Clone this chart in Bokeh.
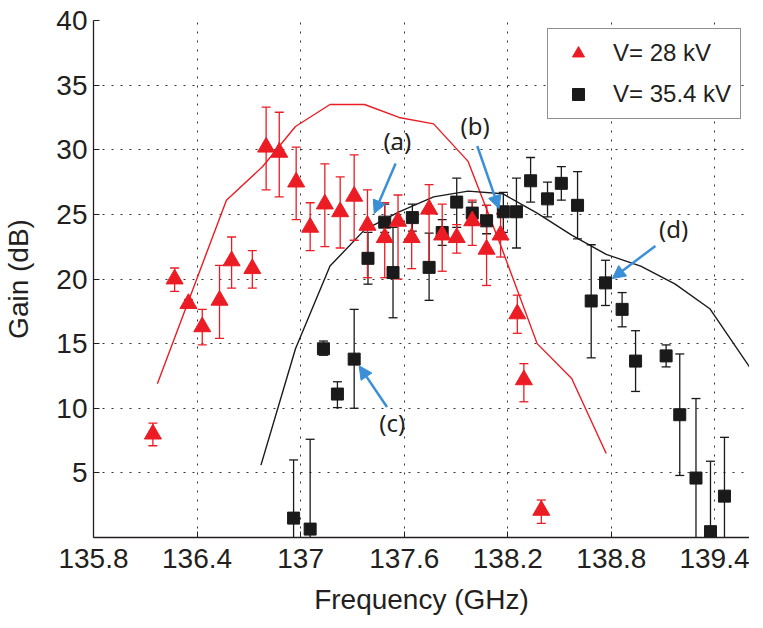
from bokeh.plotting import figure
from bokeh.models import (Range1d, FixedTicker, Legend, LegendItem, Arrow,
                          NormalHead, ColumnDataSource)
from bokeh.core.properties import value
from bokeh.embed import file_html
from bokeh.resources import INLINE

# ---------------- data ----------------
x_ticks = [135.8, 136.4, 137.0, 137.6, 138.2, 138.8, 139.4]
x_tick_labels = ["135.8", "136.4", "137", "137.6", "138.2", "138.8", "139.4"]
y_ticks = [5, 10, 15, 20, 25, 30, 35, 40]
y_tick_labels = ["5", "10", "15", "20", "25", "30", "35", "40"]

# measured, V = 28 kV
freq_28 = [136.144, 136.27, 136.35, 136.43, 136.53, 136.60, 136.72, 136.80, 136.876,
           136.974, 137.055, 137.14, 137.229, 137.31, 137.387, 137.487, 137.564,
           137.643, 137.744, 137.82, 137.904, 137.994, 138.077, 138.158, 138.255,
           138.293, 138.394]
gain_28 = [8.0, 20.0, 18.1, 16.3, 18.35, 21.4, 20.8, 30.2, 29.8,
           27.5, 24.0, 25.8, 25.2, 26.4, 24.15, 23.2, 24.46,
           23.2, 25.4, 23.4, 23.2, 24.5, 22.3, 23.4, 17.3,
           12.2, 2.1]
low_28 = [7.1, 19.05, 17.8, 14.9, 15.4, 19.3, 19.3, 26.9, 26.35,
          24.6, 22.2, 22.5, 22.4, 23.0, 20.1, 20.1, 20.0,
          20.8, 20.6, 20.6, 22.0, 22.6, 19.5, 21.7, 15.8,
          10.5, 1.1]
high_28 = [8.85, 20.85, 18.4, 17.65, 21.05, 23.25, 22.2, 33.3, 32.9,
           30.2, 25.9, 28.9, 27.9, 29.6, 26.9, 25.9, 26.5,
           24.9, 27.3, 25.8, 24.2, 26.1, 25.7, 25.05, 18.75,
           13.45, 2.9]

# measured, V = 35.4 kV
freq_35 = [136.959, 137.055, 137.132, 137.213, 137.31, 137.39, 137.487, 137.535,
           137.647, 137.744, 137.82, 137.904, 137.994, 138.077, 138.174, 138.25,
           138.332, 138.43, 138.51, 138.604, 138.683, 138.766, 138.862, 138.94,
           139.117, 139.196, 139.29, 139.374, 139.455]
gain_35 = [1.5, 0.65, 14.6, 11.1, 13.8, 21.6, 24.4, 20.5,
           24.75, 20.9, 23.6, 25.95, 25.1, 24.5, 25.2, 25.2,
           27.6, 26.2, 27.4, 25.7, 18.3, 19.7, 17.65, 13.65,
           14.05, 9.5, 4.6, 0.45, 3.2]
low_35 = [-3.0, -6.3, 14.1, 10.05, 10.0, 19.6, 23.6, 17.0,
          23.7, 18.35, 22.6, 24.0, 24.15, 23.5, 23.6, 22.4,
          25.95, 24.8, 26.1, 23.1, 13.9, 17.95, 16.3, 11.3,
          13.2, 4.8, -1.5, -5.0, -1.3]
high_35 = [6.0, 7.6, 15.2, 12.05, 17.65, 23.6, 25.8, 24.0,
           25.8, 23.55, 24.6, 27.8, 25.95, 25.7, 26.7, 27.8,
           29.4, 27.5, 28.7, 28.3, 22.65, 21.45, 18.95, 16.0,
           14.9, 14.2, 10.75, 5.9, 7.75]

# simulation curves
sim28_x = [136.17, 136.57, 136.78, 136.97, 137.17, 137.37, 137.57, 137.77,
           137.97, 138.17, 138.37, 138.57, 138.77]
sim28_y = [11.9, 26.1, 28.7, 31.8, 33.5, 33.5, 32.5, 32.0,
           29.1, 22.2, 15.0, 12.3, 6.5]
sim35_x = [136.77, 136.97, 137.17, 137.37, 137.57, 137.77, 137.97, 138.17,
           138.37, 138.57, 138.77, 138.97, 139.17, 139.37, 139.6]
sim35_y = [5.6, 14.6, 21.0, 23.8, 25.2, 26.35, 26.8, 26.6,
           25.1, 23.4, 21.9, 21.0, 19.6, 17.7, 13.2]

# annotations
ann_labels = ["(a)", "(b)", "(c)", "(d)"]
ann_x = [137.56, 138.01, 137.53, 139.16]
ann_y = [30.7, 31.9, 8.9, 23.9]
arrow_x0 = [137.55, 138.023, 137.50, 139.055]
arrow_y0 = [28.93, 30.29, 10.10, 22.56]
arrow_x1 = [137.426, 138.149, 137.339, 138.805]
arrow_y1 = [25.06, 25.45, 13.28, 20.03]

RED = "#ec1c24"
BLACK = "#1a1a1a"
BLUE = "#3b8fd6"
TXT = "#231f20"
FONT = "Liberation Sans"

# ---------------- figure ----------------
p = figure(frame_width=656, frame_height=517,
           x_range=Range1d(135.8, 139.6), y_range=Range1d(0, 40),
           output_backend="svg", toolbar_location=None,
           min_border_left=92, min_border_right=0,
           min_border_top=20, min_border_bottom=78)
p.outline_line_color = None
p.background_fill_color = "white"
p.border_fill_color = "white"

for ax in (p.xaxis[0], p.yaxis[0]):
    ax.major_label_text_font = FONT
    ax.major_label_text_font_size = "28px"
    ax.major_label_text_color = TXT
    ax.axis_label_text_font = FONT
    ax.axis_label_text_font_size = "28px"
    ax.axis_label_text_font_style = "normal"
    ax.axis_label_text_color = TXT
    ax.axis_line_color = TXT
    ax.axis_line_width = 1.3
    ax.major_tick_in = 6
    ax.major_tick_out = 0
    ax.major_tick_line_color = TXT
    ax.minor_tick_line_color = None

p.xaxis.major_label_standoff = 11
p.yaxis.major_label_standoff = 6
p.xaxis.ticker = FixedTicker(ticks=x_ticks)
p.xaxis.major_label_overrides = dict(zip(x_ticks, x_tick_labels))
p.yaxis.ticker = FixedTicker(ticks=y_ticks)
p.yaxis.major_label_overrides = dict(zip(y_ticks, y_tick_labels))
p.xaxis.axis_label = "Frequency (GHz)"
p.yaxis.axis_label = "Gain (dB)"
p.xaxis.axis_label_standoff = 13
p.yaxis.axis_label_standoff = 19

p.xgrid.ticker = FixedTicker(ticks=x_ticks)
p.ygrid.ticker = FixedTicker(ticks=y_ticks)
p.grid.grid_line_color = "#333333"
p.grid.grid_line_dash = "2 7"
p.grid.grid_line_width = 1

# simulation lines
p.line(sim28_x, sim28_y, line_color=RED, line_width=1.4)
p.line(sim35_x, sim35_y, line_color=BLACK, line_width=1.4)

# error bars
p.segment(x0=freq_35, y0=low_35, x1=freq_35, y1=high_35, line_color=BLACK, line_width=1.3)
p.scatter(freq_35, low_35, marker="dash", size=9, line_color=BLACK, line_width=1.3)
p.scatter(freq_35, high_35, marker="dash", size=9, line_color=BLACK, line_width=1.3)
p.segment(x0=freq_28, y0=low_28, x1=freq_28, y1=high_28, line_color=RED, line_width=1.3)
p.scatter(freq_28, low_28, marker="dash", size=9, line_color=RED, line_width=1.3)
p.scatter(freq_28, high_28, marker="dash", size=9, line_color=RED, line_width=1.3)

# markers
r35 = p.scatter(freq_35, gain_35, marker="square", size=12,
                fill_color=BLACK, line_color=BLACK)
r28 = p.scatter(freq_28, gain_28, marker="triangle", size=17,
                fill_color=RED, line_color=RED)

# annotations
asrc = ColumnDataSource(dict(x0=arrow_x0, y0=arrow_y0, x1=arrow_x1, y1=arrow_y1))
p.add_layout(Arrow(end=NormalHead(size=13, fill_color=BLUE, line_color=BLUE),
                   x_start="x0", y_start="y0", x_end="x1", y_end="y1",
                   source=asrc, line_color=BLUE, line_width=2.5))
p.text(x=ann_x, y=ann_y, text=ann_labels, text_font=value("Noto Sans"),
       text_font_size=value("24px"), text_align="center",
       text_baseline="middle", text_color=TXT)

legend = Legend(items=[LegendItem(label="V= 28 kV", renderers=[r28]),
                       LegendItem(label="V= 35.4 kV", renderers=[r35])],
                location=(454, 418))
legend.label_text_font = FONT
legend.label_text_font_size = "24px"
legend.label_text_color = TXT
legend.border_line_color = TXT
legend.border_line_width = 1
legend.padding = 9
legend.spacing = 11
legend.margin = 0
legend.glyph_width = 42
legend.glyph_height = 30
legend.label_height = 28
legend.label_standoff = 14
legend.background_fill_alpha = 1.0
p.add_layout(legend)

open("out.html", "w").write(file_html(p, INLINE))
